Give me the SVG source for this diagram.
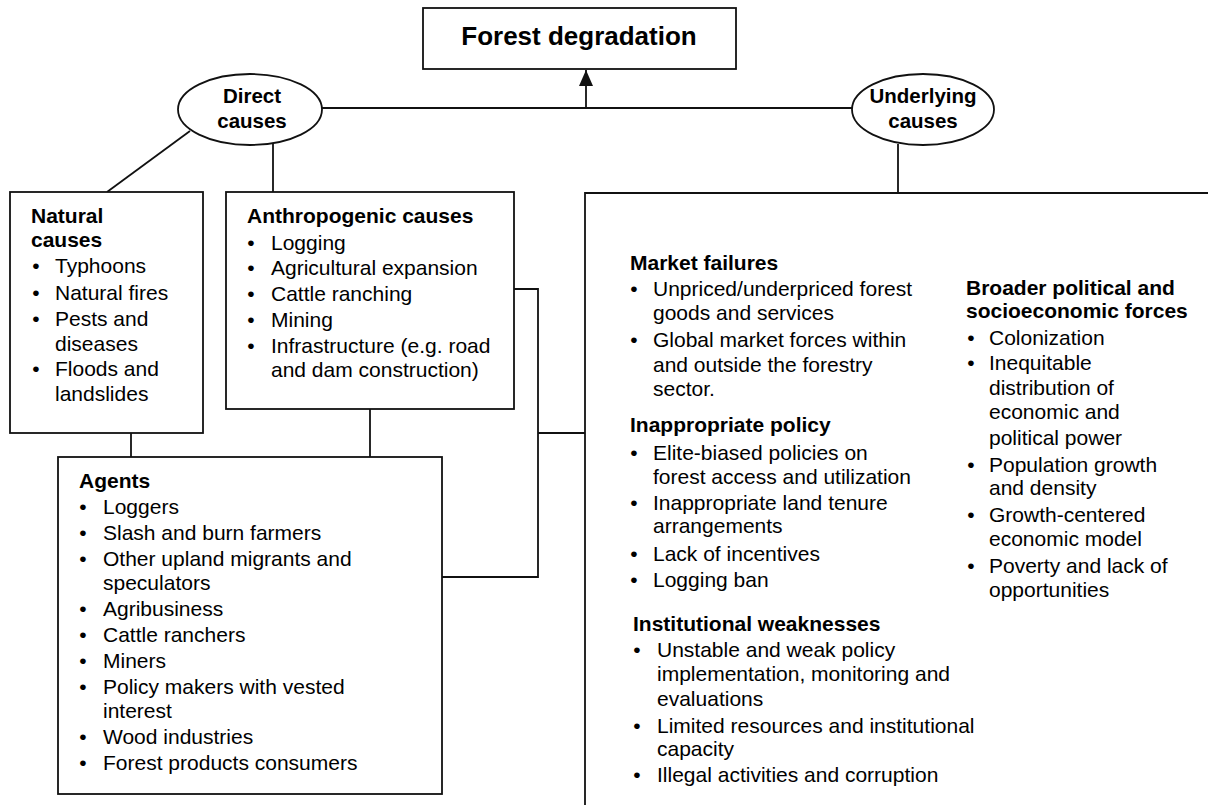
<svg xmlns="http://www.w3.org/2000/svg" width="1208" height="805" viewBox="0 0 1208 805">
  <style>
    .box { fill: #fff; stroke: #111; stroke-width: 1.8; }
    .line { fill: none; stroke: #111; stroke-width: 1.8; }
    text { font-family: "Liberation Sans", Arial, sans-serif; font-size: 21px; fill: #000; }
    .h { font-weight: bold; }
    .title { font-weight: bold; font-size: 26px; text-anchor: middle; }
    .oval { font-weight: bold; font-size: 20.5px; text-anchor: middle; }
    .b { text-anchor: middle; }
  </style>
  <defs>
    <marker id="arrow" viewBox="0 0 16 14" refX="16" refY="7" markerWidth="16" markerHeight="14" markerUnits="userSpaceOnUse" orient="auto">
      <path d="M0,0 L16,7 L0,14 Z" fill="#111"/>
    </marker>
  </defs>
  <rect width="1208" height="805" fill="#fff"/>

  <!-- connectors -->
  <g id="connectors">
    <path class="line" d="M586,108 V70" marker-end="url(#arrow)"/>
    <path class="line" d="M322,108 H852"/>
    <path class="line" d="M190,131 L107,192"/>
    <path class="line" d="M273,143 V192"/>
    <path class="line" d="M898,144 V193"/>
    <path class="line" d="M131,433 V457"/>
    <path class="line" d="M370,409 V457"/>
    <path class="line" d="M514,289 H538 V577 H442"/>
    <path class="line" d="M538,433 H585"/>
  </g>

  <!-- top result -->
  <g id="forest-degradation">
    <rect class="box" x="423" y="8" width="313" height="61"/>
    <text class="title" x="579" y="45">Forest degradation</text>
  </g>

  <g id="direct-causes">
    <ellipse class="box" cx="250" cy="109.5" rx="72" ry="35.5"/>
    <text class="oval" x="252" y="103">Direct</text>
    <text class="oval" x="252" y="128">causes</text>
  </g>

  <g id="underlying-causes">
    <ellipse class="box" cx="923" cy="109.5" rx="71" ry="35.5"/>
    <text class="oval" x="923" y="103">Underlying</text>
    <text class="oval" x="923" y="128">causes</text>
  </g>

  <g id="natural-causes">
    <rect class="box" x="10" y="192" width="193" height="241"/>
    <text class="h" x="31" y="223">Natural</text>
    <text class="h" x="31" y="247">causes</text>
    <text class="b" x="36" y="273">•</text>
    <text class="b" x="36" y="300">•</text>
    <text class="b" x="36" y="326">•</text>
    <text class="b" x="36" y="376">•</text>
    <text x="55" y="273">Typhoons</text>
    <text x="55" y="300">Natural fires</text>
    <text x="55" y="326">Pests and</text>
    <text x="55" y="351">diseases</text>
    <text x="55" y="376">Floods and</text>
    <text x="55" y="401">landslides</text>
  </g>

  <g id="anthropogenic-causes">
    <rect class="box" x="226" y="192" width="288" height="217"/>
    <text class="h" x="247" y="223">Anthropogenic causes</text>
    <text class="b" x="251" y="250">•</text>
    <text class="b" x="251" y="275">•</text>
    <text class="b" x="251" y="301">•</text>
    <text class="b" x="251" y="327">•</text>
    <text class="b" x="251" y="353">•</text>
    <text x="271" y="250">Logging</text>
    <text x="271" y="275">Agricultural expansion</text>
    <text x="271" y="301">Cattle ranching</text>
    <text x="271" y="327">Mining</text>
    <text x="271" y="353">Infrastructure (e.g. road</text>
    <text x="271" y="377">and dam construction)</text>
  </g>

  <g id="agents">
    <rect class="box" x="58" y="457" width="384" height="337"/>
    <text class="h" x="79" y="488">Agents</text>
    <text class="b" x="83" y="514">•</text>
    <text class="b" x="83" y="540">•</text>
    <text class="b" x="83" y="566">•</text>
    <text class="b" x="83" y="616">•</text>
    <text class="b" x="83" y="642">•</text>
    <text class="b" x="83" y="668">•</text>
    <text class="b" x="83" y="694">•</text>
    <text class="b" x="83" y="744">•</text>
    <text class="b" x="83" y="770">•</text>
    <text x="103" y="514">Loggers</text>
    <text x="103" y="540">Slash and burn farmers</text>
    <text x="103" y="566">Other upland migrants and</text>
    <text x="103" y="590">speculators</text>
    <text x="103" y="616">Agribusiness</text>
    <text x="103" y="642">Cattle ranchers</text>
    <text x="103" y="668">Miners</text>
    <text x="103" y="694">Policy makers with vested</text>
    <text x="103" y="718">interest</text>
    <text x="103" y="744">Wood industries</text>
    <text x="103" y="770">Forest products consumers</text>
  </g>

  <g id="underlying-factors">
    <path class="line" d="M585,806 V193 H1209"/>
    <text class="h" x="630" y="270">Market failures</text>
    <text class="b" x="634" y="296">•</text>
    <text class="b" x="634" y="347">•</text>
    <text x="653" y="296">Unpriced/underpriced forest</text>
    <text x="653" y="320">goods and services</text>
    <text x="653" y="347">Global market forces within</text>
    <text x="653" y="372">and outside the forestry</text>
    <text x="653" y="396">sector.</text>

    <text class="h" x="630" y="432">Inappropriate policy</text>
    <text class="b" x="634" y="460">•</text>
    <text class="b" x="634" y="510">•</text>
    <text class="b" x="634" y="561">•</text>
    <text class="b" x="634" y="587">•</text>
    <text x="653" y="460">Elite-biased policies on</text>
    <text x="653" y="484">forest access and utilization</text>
    <text x="653" y="510">Inappropriate land tenure</text>
    <text x="653" y="533">arrangements</text>
    <text x="653" y="561">Lack of incentives</text>
    <text x="653" y="587">Logging ban</text>

    <text class="h" x="633" y="631">Institutional weaknesses</text>
    <text class="b" x="637" y="657">•</text>
    <text class="b" x="637" y="733">•</text>
    <text class="b" x="637" y="782">•</text>
    <text x="657" y="657">Unstable and weak policy</text>
    <text x="657" y="681">implementation, monitoring and</text>
    <text x="657" y="706">evaluations</text>
    <text x="657" y="733">Limited resources and institutional</text>
    <text x="657" y="756">capacity</text>
    <text x="657" y="782">Illegal activities and corruption</text>

    <text class="h" x="966" y="295">Broader political and</text>
    <text class="h" x="966" y="318">socioeconomic forces</text>
    <text class="b" x="971" y="345">•</text>
    <text class="b" x="971" y="370">•</text>
    <text class="b" x="971" y="472">•</text>
    <text class="b" x="971" y="522">•</text>
    <text class="b" x="971" y="573">•</text>
    <text x="989" y="345">Colonization</text>
    <text x="989" y="370">Inequitable</text>
    <text x="989" y="395">distribution of</text>
    <text x="989" y="419">economic and</text>
    <text x="989" y="445">political power</text>
    <text x="989" y="472">Population growth</text>
    <text x="989" y="495">and density</text>
    <text x="989" y="522">Growth-centered</text>
    <text x="989" y="546">economic model</text>
    <text x="989" y="573">Poverty and lack of</text>
    <text x="989" y="597">opportunities</text>
  </g>
</svg>
